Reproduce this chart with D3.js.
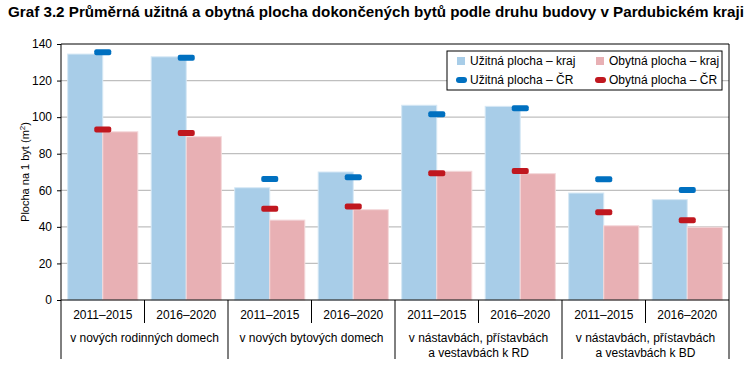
<!DOCTYPE html>
<html>
<head>
<meta charset="utf-8">
<script src="https://cdn.jsdelivr.net/npm/d3@7"></script>
<style>
  body { margin: 0; background: #fff; }
  svg { display: block; font-family: "Liberation Sans", Arial, sans-serif; }
</style>
</head>
<body>
<div id="chart"></div>
<script>
const groups = ["v nových rodinných domech", "v nových bytových domech", "v nástavbách, přístavbách|a vestavbách k RD", "v nástavbách, přístavbách|a vestavbách k BD"];
const years = ["2011–2015", "2016–2020"];
const uzitnaKraj = [134.5, 133, 61.4, 70, 106.5, 105.9, 58.5, 54.9];
const obytnaKraj = [92, 89.3, 43.7, 49.4, 70.4, 69.1, 40.6, 39.8];
const uzitnaCR = [135.5, 132.5, 66.2, 67.1, 101.6, 104.8, 66, 60.2];
const obytnaCR = [93.3, 91.3, 49.9, 51.2, 69.3, 70.5, 48, 43.6];
const yTicks = [0, 20, 40, 60, 80, 100, 120, 140];
const legendItems = ["Užitná plocha – kraj", "Obytná plocha – kraj", "Užitná plocha – ČR", "Obytná plocha – ČR"];

const colors = { uk: "#a8cde8", ok: "#e8b0b4", ucr: "#0070c0", ocr: "#c0171f" };

// jedna kategorie = skupina + období
const cats = [];
groups.forEach((g, gi) => years.forEach((yr, yi) => cats.push({ id: gi + "_" + yi, group: gi, year: yr })));
const data = cats.map((c, i) => ({ ...c, uk: uzitnaKraj[i], ok: obytnaKraj[i], ucr: uzitnaCR[i], ocr: obytnaCR[i] }));

const W = 754, H = 373;
const margin = { top: 44, right: 25, bottom: 73, left: 61 };
const width = W - margin.left - margin.right;
const height = H - margin.top - margin.bottom;

const root = d3.select("#chart").append("svg").attr("width", W).attr("height", H);

root.append("text")
  .attr("x", 8).attr("y", 17)
  .attr("font-size", 15.2).attr("font-weight", "bold").attr("fill", "#000")
  .text("Graf 3.2 Průměrná užitná a obytná plocha dokončených bytů podle druhu budovy v Pardubickém kraji");

const svg = root.append("g").attr("transform", `translate(${margin.left},${margin.top})`);

const x = d3.scaleBand().domain(data.map(d => d.id)).range([0, width]).paddingInner(0.16).paddingOuter(0.08);
const x1 = d3.scaleBand().domain(["uk", "ok"]).range([0, x.bandwidth()]);
const y = d3.scaleLinear().domain([0, 140]).range([height, 0]);
const step = x.step();

// mřížka
svg.append("g")
  .selectAll("line")
  .data(yTicks.filter(t => t > 0 && t < 140))
  .join("line")
  .attr("x1", 0).attr("x2", width)
  .attr("y1", d => y(d)).attr("y2", d => y(d))
  .attr("stroke", "#bfbfbf").attr("stroke-width", 1.3);

// sloupce
const bars = svg.append("g").selectAll("g").data(data).join("g")
  .attr("transform", d => `translate(${x(d.id)},0)`);
bars.append("rect")
  .attr("x", x1("uk")).attr("width", x1.bandwidth())
  .attr("y", d => y(d.uk)).attr("height", d => height - y(d.uk))
  .attr("fill", colors.uk).attr("stroke", "#d6e8f5").attr("stroke-width", 1);
bars.append("rect")
  .attr("x", x1("ok")).attr("width", x1.bandwidth())
  .attr("y", d => y(d.ok)).attr("height", d => height - y(d.ok))
  .attr("fill", colors.ok).attr("stroke", "#f4d9db").attr("stroke-width", 1);

// značky ČR
const mw = 17, mh = 6;
bars.append("rect")
  .attr("x", x.bandwidth() / 2 - mw / 2).attr("width", mw)
  .attr("y", d => y(d.ucr) - mh / 2).attr("height", mh)
  .attr("rx", 2).attr("fill", colors.ucr);
bars.append("rect")
  .attr("x", x.bandwidth() / 2 - mw / 2).attr("width", mw)
  .attr("y", d => y(d.ocr) - mh / 2).attr("height", mh)
  .attr("rx", 2).attr("fill", colors.ocr);

// osa Y
const yAxis = svg.append("g")
  .call(d3.axisLeft(y).tickValues(yTicks).tickSize(4).tickPadding(5))
  .call(g => g.select(".domain").remove());
yAxis.selectAll("line").attr("stroke", "#000");
yAxis.selectAll("text").attr("font-size", 12).attr("fill", "#000").attr("font-family", "Liberation Sans, Arial, sans-serif");

// rámeček a osy
svg.append("line").attr("x1", 0).attr("x2", width).attr("y1", 0).attr("y2", 0).attr("stroke", "#000");
svg.append("line").attr("x1", 0).attr("x2", 0).attr("y1", 0).attr("y2", height + 59).attr("stroke", "#000");
svg.append("line").attr("x1", width).attr("x2", width).attr("y1", 0).attr("y2", height + 59).attr("stroke", "#000");
svg.append("line").attr("x1", 0).attr("x2", width).attr("y1", height).attr("y2", height).attr("stroke", "#000");

// osa X - roky
const xAxis = svg.append("g")
  .attr("transform", `translate(0,${height})`)
  .call(d3.axisBottom(x).tickSize(0).tickPadding(10).tickFormat(id => data.find(d => d.id === id).year))
  .call(g => g.select(".domain").remove());
xAxis.selectAll("text").attr("font-size", 12).attr("fill", "#000").attr("font-family", "Liberation Sans, Arial, sans-serif");

// oddělovače
svg.append("g").selectAll("line")
  .data(d3.range(1, cats.length))
  .join("line")
  .attr("x1", i => i * step).attr("x2", i => i * step)
  .attr("y1", height)
  .attr("y2", i => i % 2 === 0 ? height + 59 : height + 23)
  .attr("stroke", "#000");

// názvy skupin
const gl = svg.append("g").selectAll("text").data(groups).join("text")
  .attr("text-anchor", "middle")
  .attr("font-size", 12).attr("fill", "#000")
  .attr("transform", (d, i) => `translate(${(i * 2 + 1) * step},${height + 42})`);
gl.each(function (d) {
  const lines = d.split("|");
  d3.select(this).selectAll("tspan").data(lines).join("tspan")
    .attr("x", 0).attr("dy", (l, i) => i === 0 ? 0 : 15)
    .text(l => l);
});

// popisek osy Y
root.append("text")
  .attr("transform", `translate(25,${margin.top + y(70)}) rotate(-90)`)
  .attr("text-anchor", "middle")
  .attr("font-size", 11).attr("fill", "#000")
  .attr("dy", "0.35em")
  .html("Plocha na 1 byt (m<tspan font-size='8' dy='-4'>2</tspan><tspan dy='4'>)</tspan>");

// legenda
const leg = root.append("g").attr("transform", "translate(447,51)");
leg.append("rect").attr("width", 275).attr("height", 39).attr("fill", "#fff").attr("stroke", "#000");
const legColors = [colors.uk, colors.ok, colors.ucr, colors.ocr];
legendItems.forEach((t, i) => {
  const col = i % 2, row = Math.floor(i / 2);
  const g = leg.append("g").attr("transform", `translate(${10 + col * 139},${10 + row * 19})`);
  if (row === 0) {
    g.append("rect").attr("x", 0).attr("y", -4).attr("width", 8).attr("height", 8).attr("fill", legColors[i]);
  } else {
    g.append("rect").attr("x", -1).attr("y", -3).attr("width", 11).attr("height", 6).attr("rx", 3).attr("fill", legColors[i]);
  }
  g.append("text").attr("x", 13).attr("dy", "0.35em").attr("font-size", 12).attr("fill", "#000").text(t);
});
</script>
</body>
</html>
